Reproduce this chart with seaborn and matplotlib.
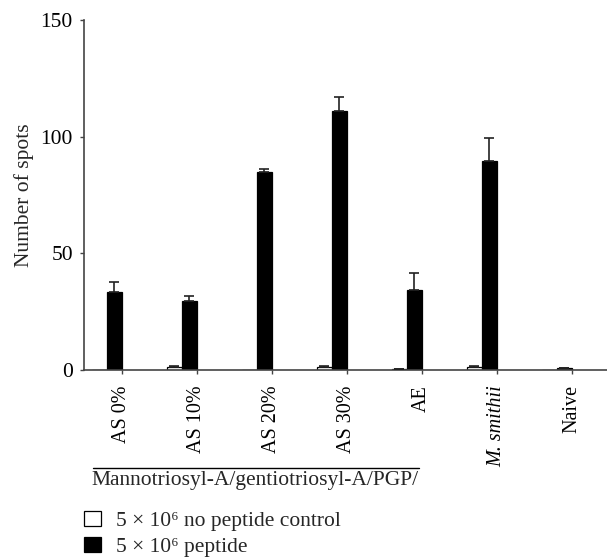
import matplotlib
matplotlib.use("Agg")
import matplotlib.pyplot as plt
from matplotlib.patches import Patch
from matplotlib.lines import Line2D
import numpy as np
import pandas as pd
import seaborn as sns

# Groups on the x axis
groups = ["AS 0%", "AS 10%", "AS 20%", "AS 30%", "AE", "M. smithii", "Naive"]

# Mean spot counts and upper error (SD) per stimulation
control_mean = [0.0, 1.3, 0.0, 1.3, 0.4, 1.3, 0.0]
control_err = [0.0, 0.5, 0.0, 0.5, 0.1, 0.5, 0.0]
peptide_mean = [33.3, 29.4, 84.7, 111.0, 34.3, 89.6, 0.7]
peptide_err = [4.6, 2.4, 1.6, 6.1, 7.1, 10.0, 0.3]

series_names = ["5 \u00d7 10\u2076 no peptide control", "5 \u00d7 10\u2076 peptide"]
yticks = [0, 50, 100, 150]

sns.set_theme(style="white")
plt.rcParams["font.family"] = ["Liberation Serif", "DejaVu Serif"]

spine_color = "#444444"
fs = 15.5

rows = []
for g, m in zip(groups, control_mean):
    rows.append({"group": g, "series": "control", "spots": m})
for g, m in zip(groups, peptide_mean):
    rows.append({"group": g, "series": "peptide", "spots": m})
# two unused hue slots keep the pair of bars on the left half of each slot
for g in groups:
    rows.append({"group": g, "series": "pad1", "spots": np.nan})
    rows.append({"group": g, "series": "pad2", "spots": np.nan})
df = pd.DataFrame(rows)

fig = plt.figure(figsize=(6.07, 5.60), dpi=100)
ax = fig.add_axes([84 / 607, 1 - 370 / 560, 525 / 607, 350 / 560])

sns.barplot(
    data=df, x="group", y="spots", hue="series",
    hue_order=["control", "peptide", "pad1", "pad2"],
    order=groups, palette=["white", "black", "white", "white"],
    errorbar=None, width=0.8, edgecolor="black", linewidth=0.9,
    legend=False, ax=ax,
)

# upward-only error bars drawn at each bar's centre
for cont, errs in zip(ax.containers[:2], [control_err, peptide_err]):
    for bar, e in zip(cont, errs):
        h = bar.get_height()
        if not np.isfinite(h) or e <= 0:
            continue
        xc = bar.get_x() + bar.get_width() / 2
        ax.errorbar(xc, h, yerr=[[0], [e]], fmt="none", ecolor="#222222",
                    elinewidth=1.2, capsize=3.5, capthick=1.2, zorder=3)

ax.set_xlim(-0.5, len(groups) - 0.5)
ax.set_ylim(0, 150)
ax.set_yticks(yticks)
ax.set_yticklabels([str(t) for t in yticks], fontsize=fs)
ax.set_xticks(range(len(groups)))
ax.set_xticklabels(groups, rotation=90, fontsize=14.5, va="top", ha="center")
for lbl in ax.get_xticklabels():
    if lbl.get_text() == "M. smithii":
        lbl.set_fontstyle("italic")
ax.set_xlabel("")
ax.set_ylabel("Number of spots", fontsize=fs, labelpad=5)

sns.despine(ax=ax)
for s in ["left", "bottom"]:
    ax.spines[s].set_color(spine_color)
    ax.spines[s].set_linewidth(1.2)
ax.tick_params(axis="both", which="both", direction="out", length=3,
               width=1.0, color=spine_color, labelcolor="black",
               left=True, bottom=True)
ax.tick_params(axis="y", pad=5)
ax.tick_params(axis="x", pad=8)

# bracket line naming the antigen formulation under the AS groups
fig.add_artist(Line2D([93 / 607, 419 / 607], [1 - 467.5 / 560] * 2,
                      color="black", linewidth=1.0))
fig.text(255 / 607, 1 - 471 / 560, "Mannotriosyl-A/gentiotriosyl-A/PGP/",
         ha="center", va="top", fontsize=fs)

handles = [Patch(facecolor="white", edgecolor="black", linewidth=0.9),
           Patch(facecolor="black", edgecolor="black", linewidth=0.9)]
fig.legend(handles, series_names, loc="upper left",
           bbox_to_anchor=(75 / 607, 1 - 502 / 560), frameon=False,
           fontsize=fs, handlelength=0.8, handleheight=0.7,
           handletextpad=0.7, labelspacing=0.3, borderaxespad=0)

fig.savefig("out.png", dpi=100)
